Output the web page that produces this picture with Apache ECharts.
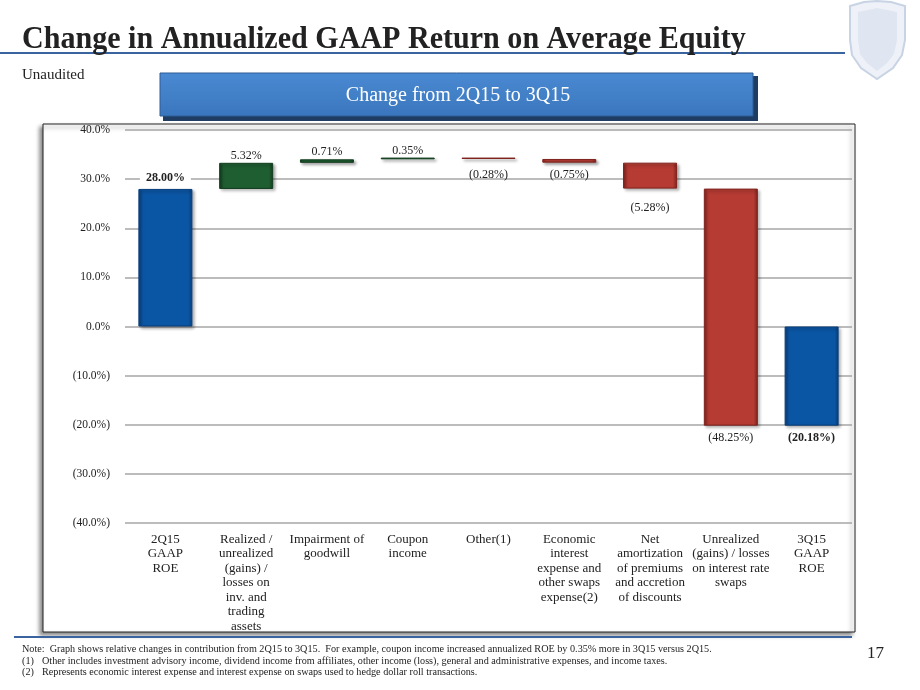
<!DOCTYPE html>
<html>
<head>
<meta charset="utf-8">
<script src="https://cdn.jsdelivr.net/npm/echarts@6/dist/echarts.min.js"></script>
<style>
html,body{margin:0;padding:0;background:#fff;}
#c{width:920px;height:690px;}
</style>
</head>
<body>
<div id="c"></div>
<script>
// ---- data ----
const categories = [
  '2Q15\nGAAP\nROE',
  'Realized /\nunrealized\n(gains) /\nlosses on\ninv. and\ntrading\nassets',
  'Impairment of\ngoodwill',
  'Coupon\nincome',
  'Other(1)',
  'Economic\ninterest\nexpense and\nother swaps\nexpense(2)',
  'Net\namortization\nof premiums\nand accretion\nof discounts',
  'Unrealized\n(gains) / losses\non interest rate\nswaps',
  '3Q15\nGAAP\nROE'
];
const changes = [28.00, 5.32, 0.71, 0.35, -0.28, -0.75, -5.28, -48.25, -20.18];
const kinds = ['total', 'up', 'up', 'up', 'down', 'down', 'down', 'down', 'total'];
const yMin = -40, yMax = 40, yStep = 10;

// ---- styles ----
const colors = {
  total: ['#083f7c', '#0b56a4', '#1f6cc0'],
  up: ['#123d1f', '#1f5e31', '#2f7a44'],
  down: ['#7f231e', '#b53b33', '#c9534a']
};
const labelGap = {0: 4, 1: 1, 2: 1, 3: 1, 4: 10, 5: 6, 6: 13, 7: 6, 8: 6};

function grad(k) {
  const c = colors[k];
  return {
    type: 'linear', x: 0, y: 0, x2: 1, y2: 0,
    colorStops: [
      {offset: 0, color: c[0]},
      {offset: 0.08, color: c[1]},
      {offset: 0.92, color: c[1]},
      {offset: 1, color: c[0]}
    ]
  };
}
function fmt(v) {
  return v < 0 ? '(' + Math.abs(v).toFixed(2) + '%)' : v.toFixed(2) + '%';
}
let running = 0;
const baseData = [], barData = [];
changes.forEach((v, i) => {
  const k = kinds[i];
  let base, h;
  if (k === 'total') { base = 0; h = v; running = v; }
  else if (k === 'up') { base = running; h = v; running += v; }
  else { running += v; base = running; h = -v; }
  baseData.push(base);
  const below = (k === 'down') || (k === 'total' && v < 0);
  const lbl = {
    show: true,
    position: below ? 'bottom' : 'top',
    distance: labelGap[i],
    formatter: fmt(v),
    fontWeight: k === 'total' ? 'bold' : 'normal'
  };
  if (k === 'total' && v > 0) { lbl.backgroundColor = '#fff'; lbl.padding = [1, 6]; }
  barData.push({
    value: h,
    itemStyle: {
      color: grad(k),
      borderColor: colors[k][0],
      borderWidth: 1,
      shadowColor: 'rgba(0,0,0,0.35)', shadowBlur: 3, shadowOffsetX: 2, shadowOffsetY: 2
    },
    label: lbl
  });
});

const chart = echarts.init(document.getElementById('c'), null, {renderer: 'canvas'});
const serif = 'Liberation Serif';
function txt(x, y, s, font, extra) {
  return Object.assign({type: 'text', x: x, y: y, z: 10,
    style: {text: s, font: font, fill: '#222', verticalAlign: 'top'}}, extra || {});
}
const noteFont = '10.2px "Liberation Serif"';
chart.setOption({
  animation: false,
  backgroundColor: '#fff',
  textStyle: {fontFamily: serif},
  grid: {left: 125, right: 68, top: 130, bottom: 167},
  xAxis: {
    type: 'category',
    data: categories,
    axisLine: {show: false},
    axisTick: {show: false},
    axisLabel: {color: '#222', fontSize: 13, lineHeight: 14.5, margin: 9, interval: 0, fontFamily: serif}
  },
  yAxis: {
    type: 'value',
    min: yMin, max: yMax, interval: yStep,
    axisLine: {show: false},
    axisTick: {show: false},
    axisLabel: {
      color: '#222', fontSize: 11.5, margin: 15, fontFamily: serif,
      formatter: v => v < 0 ? '(' + Math.abs(v).toFixed(1) + '%)' : v.toFixed(1) + '%'
    },
    splitLine: {lineStyle: {color: '#a6a6a6', width: 1.5}}
  },
  series: [
    {
      type: 'bar', stack: 'wf', stackStrategy: 'all', data: baseData,
      itemStyle: {color: 'rgba(0,0,0,0)'}, barWidth: 54, silent: true
    },
    {
      type: 'bar', stack: 'wf', stackStrategy: 'all', data: barData, barWidth: 54,
      label: {show: true, color: '#222', fontSize: 12, fontFamily: serif}
    }
  ],
  graphic: {
    elements: [
      // chart frame
      {type: 'rect', z: -100, shape: {x: 43, y: 124, width: 812, height: 508},
       style: {fill: '#fff', stroke: '#222', lineWidth: 1, shadowColor: 'rgba(0,0,0,0.45)', shadowBlur: 4, shadowOffsetX: -3, shadowOffsetY: 3}},
      // title
      txt(22, 24, 'Change in Annualized GAAP Return on Average Equity', 'bold 31px "Liberation Serif"', {scaleX: 0.97}),
      {type: 'rect', shape: {x: 0, y: 52, width: 845, height: 2}, style: {fill: '#3a64a0'}},
      txt(22, 68, 'Unaudited', '15px "Liberation Serif"'),
      // banner
      {type: 'rect', shape: {x: 163, y: 76, width: 595, height: 45}, style: {fill: '#1f3d63'}},
      {type: 'rect', shape: {x: 160, y: 73, width: 593, height: 43},
       style: {fill: {type: 'linear', x: 0, y: 0, x2: 0, y2: 1, colorStops: [{offset: 0, color: '#4a8ad2'}, {offset: 1, color: '#3a76bd'}]}, stroke: '#2f5d96', lineWidth: 1}},
      {type: 'text', x: 458, y: 96, z: 10, style: {text: 'Change from 2Q15 to 3Q15', font: '20px "Liberation Serif"', fill: '#fff', align: 'center', verticalAlign: 'middle'}},
      // logo shield
      {type: 'polygon', shape: {points: [[850, 6], [864, 2], [877, 1], [891, 2], [905, 6], [905, 40], [902, 55], [893, 68], [877, 79], [861, 68], [852, 55], [850, 40]]},
       style: {fill: '#eef2f8', stroke: '#c8d3e4', lineWidth: 2}},
      {type: 'polygon', shape: {points: [[858, 12], [877, 8], [897, 12], [897, 40], [894, 54], [887, 63], [877, 71], [867, 63], [860, 54], [858, 40]]},
       style: {fill: '#dfe6f1'}},
      // footer
      {type: 'rect', shape: {x: 14, y: 636, width: 838, height: 2}, style: {fill: '#3a64a0'}},
      txt(22, 644, 'Note:  Graph shows relative changes in contribution from 2Q15 to 3Q15.  For example, coupon income increased annualized ROE by 0.35% more in 3Q15 versus 2Q15.', noteFont),
      txt(22, 656, '(1)', noteFont),
      txt(42, 656, 'Other includes investment advisory income, dividend income from affiliates, other income (loss), general and administrative expenses, and income taxes.', noteFont),
      txt(22, 667, '(2)', noteFont),
      txt(42, 667, 'Represents economic interest expense and interest expense on swaps used to hedge dollar roll transactions.', noteFont),
      txt(867, 645, '17', '17px "Liberation Serif"')
    ]
  }
});
</script>
</body>
</html>
